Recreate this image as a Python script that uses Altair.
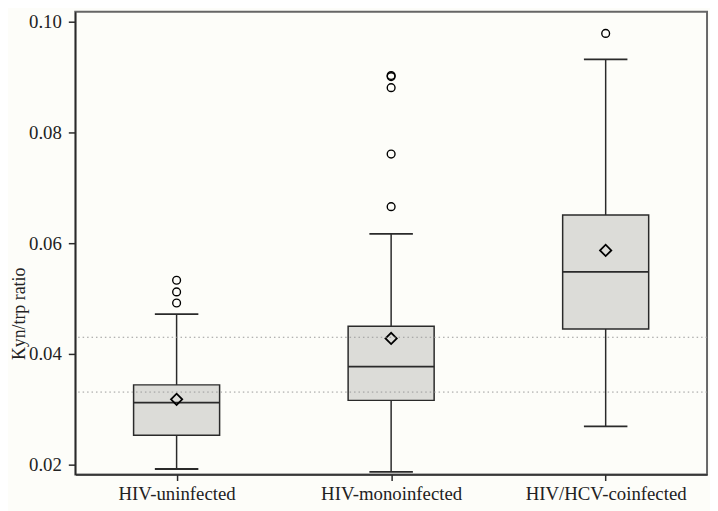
import altair as alt
import pandas as pd

groups = ["HIV-uninfected", "HIV-monoinfected", "HIV/HCV-coinfected"]
q1 = [0.0253, 0.0316, 0.0445]
median = [0.0312, 0.0377, 0.0548]
q3 = [0.0344, 0.0450, 0.0651]
whisker_low = [0.0192, 0.0187, 0.0269]
whisker_high = [0.0472, 0.0617, 0.0932]
mean = [0.0318, 0.0428, 0.0587]

outlier_group = ["HIV-uninfected"] * 3 + ["HIV-monoinfected"] * 5 + ["HIV/HCV-coinfected"]
outlier_value = [0.0533, 0.0512, 0.0492, 0.0903, 0.0901, 0.0881, 0.0761, 0.0666, 0.0979]

ref_lines = [0.0430, 0.0331]

y_domain = [0.0182, 0.1018]
y_ticks = [0.02, 0.04, 0.06, 0.08, 0.10]

FONT = "Liberation Serif"
DARK = "#2a2a2a"

stats = pd.DataFrame({
    "group": groups, "q1": q1, "median": median, "q3": q3,
    "lo": whisker_low, "hi": whisker_high, "mean": mean,
})
outs = pd.DataFrame({"group": outlier_group, "value": outlier_value})
refs = pd.DataFrame({"v": ref_lines})

xenc = alt.X("group:N", sort=groups,
             scale=alt.Scale(type="point", padding=0.4725),
             axis=alt.Axis(title=None, labelFont=FONT, labelFontSize=19, labelColor="#222",
                           labelPadding=4, tickSize=6, tickColor=DARK, domainColor=DARK,
                           domainWidth=1.5, tickWidth=1.5, labelAngle=0))
yscale = alt.Scale(domain=y_domain, nice=False, zero=False)

base = alt.Chart(stats)

whisk_up = base.mark_rule(color=DARK, strokeWidth=1.5).encode(
    x=xenc,
    y=alt.Y("q3:Q", scale=yscale,
            axis=alt.Axis(title="Kyn/trp ratio", values=y_ticks, format=".2f",
                          labelFont=FONT, labelFontSize=19, labelColor="#222",
                          titleFont=FONT, titleFontSize=18, titleFontWeight="normal",
                          titleColor="#222", titleX=-47, titleY=305, titleAngle=270,
                          titleAlign="center", titleBaseline="bottom",
                          tickSize=7, labelPadding=7, grid=False,
                          tickColor=DARK, domainColor=DARK, domainWidth=1.5, tickWidth=1.5)),
    y2="hi:Q")
whisk_lo = base.mark_rule(color=DARK, strokeWidth=1.5).encode(x=xenc, y=alt.Y("lo:Q", scale=yscale), y2="q1:Q")
cap_hi = base.mark_tick(color=DARK, size=44, thickness=1.8, opacity=1).encode(x=xenc, y=alt.Y("hi:Q", scale=yscale))
cap_lo = base.mark_tick(color=DARK, size=44, thickness=1.8, opacity=1).encode(x=xenc, y=alt.Y("lo:Q", scale=yscale))
box = base.mark_bar(size=87, fill="#dcdcd8", stroke=DARK, strokeWidth=1.5, opacity=1).encode(
    x=xenc, y=alt.Y("q1:Q", scale=yscale), y2="q3:Q")
med = base.mark_tick(color=DARK, size=87, thickness=1.8, opacity=1).encode(x=xenc, y=alt.Y("median:Q", scale=yscale))
mn = base.mark_point(shape="diamond", filled=False, color="#000", size=130, strokeWidth=1.8, opacity=1).encode(
    x=xenc, y=alt.Y("mean:Q", scale=yscale))
out_pts = alt.Chart(outs).mark_point(shape="circle", filled=False, color="#000", size=62, strokeWidth=1.4, opacity=1).encode(
    x=xenc, y=alt.Y("value:Q", scale=yscale))
ref = alt.Chart(refs).mark_rule(color="#999", strokeDash=[1.5, 3], strokeWidth=1).encode(
    y=alt.Y("v:Q", scale=yscale))

chart = alt.layer(whisk_up, whisk_lo, cap_hi, cap_lo, box, med, mn, out_pts, ref).properties(
    width=639, height=468,
    autosize=alt.AutoSizeParams(type="none"),
    padding={"left": 68, "top": 1, "right": 3, "bottom": 34},
    background="#fdfdf9",
).configure_view(stroke="#666", strokeWidth=2)

chart.save("out.html", embed_options={"renderer": "svg", "actions": False})
